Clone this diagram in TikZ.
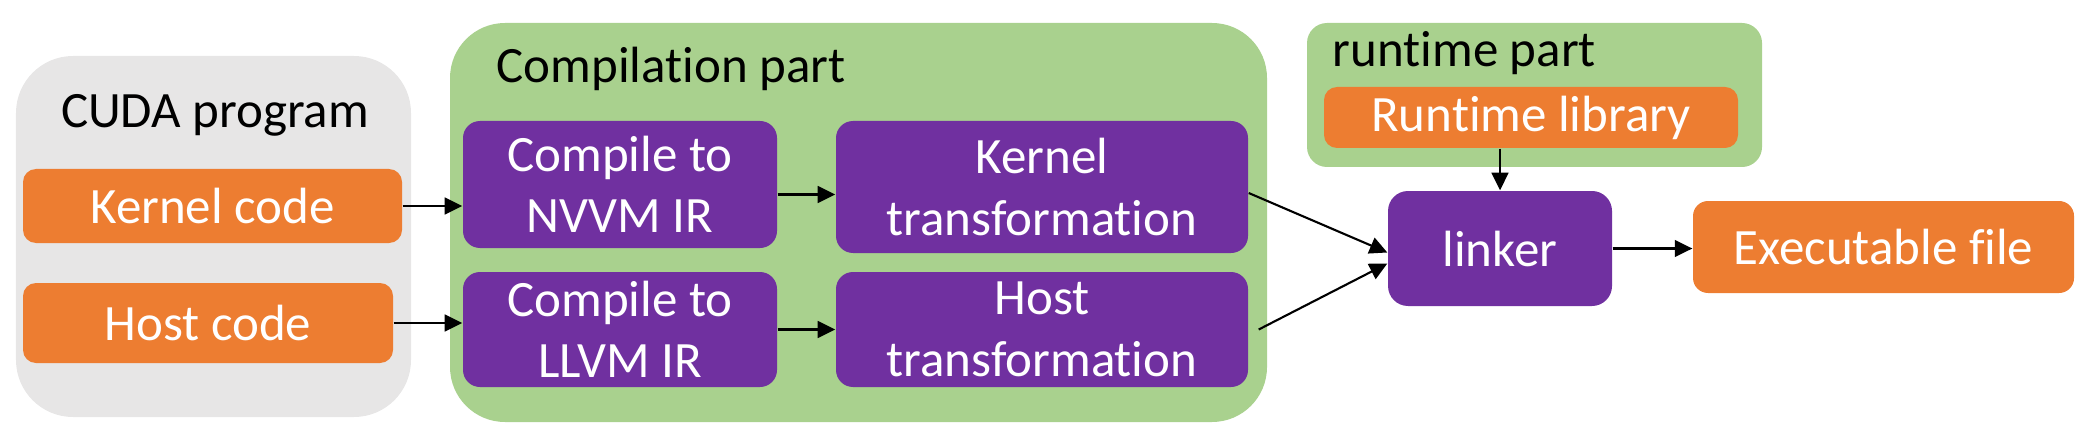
\documentclass[tikz,border=0pt]{standalone}
\usepackage{fontspec}
\setmainfont{Carlito}[Ligatures={NoCommon,NoContextual,NoRequired,NoRare}]
\usetikzlibrary{arrows.meta, positioning, calc}
\usepackage{xcolor}
\definecolor{officeOrange}{HTML}{ED7D31}
\definecolor{officePurple}{HTML}{7030A0}
\definecolor{officeGreen}{HTML}{A9D18E}
\definecolor{officeGray}{HTML}{E7E6E6}
\tikzset{
    partBox/.style={
        fill=officeGreen, draw=none, inner sep=0pt, rounded corners=0.55cm
    },
    partTitle/.style={
        text=black, inner sep=0pt, font=\fontsize{14.5pt}{17.5pt}\selectfont
    },
    codeBlock/.style={
        fill=officeOrange, draw=none, text=white, rounded corners=0.13cm, inner sep=0pt, align=center, font=\fontsize{14.5pt}{17.5pt}\selectfont
    },
    stageBlock/.style={
        fill=officePurple, draw=none, text=white, rounded corners=0.17cm, inner sep=0pt, align=center, font=\fontsize{14.5pt}{17.5pt}\selectfont
    },
    flowArrow/.style={
        -{Triangle[length=5pt, width=4.8pt]}, line width=0.6pt, draw=black
    }
}
\begin{document}
\begin{tikzpicture}
    \useasboundingbox (0,0) rectangle (20.88,-4.36);

    % ── GROUPS
    \node[partBox, fill=officeGray, rounded corners=0.57cm, minimum width=3.95cm, minimum height=3.61cm] (cudaPart) at (2.135, -2.365) {};
    \node[partBox, minimum width=8.17cm, minimum height=3.99cm] (compPart) at (8.585, -2.225) {};
    \node[partBox, rounded corners=0.2cm, minimum width=4.55cm, minimum height=1.44cm] (runPart) at (15.345, -0.95) {};

    \node[partTitle, anchor=base] (cudaTitle) at (2.15, -1.27) {CUDA program};
    \node[partTitle, anchor=base west] (compTitle) at (4.96, -0.82) {Compilation part};
    \node[partTitle, anchor=base west] (runTitle) at (13.32, -0.67) {runtime part};

    % ── SOURCE CODE
    \node[codeBlock, minimum width=3.79cm, minimum height=0.74cm] (kernelCode) at (2.125, -2.06) {Kernel code};
    \node[codeBlock, minimum width=3.70cm, minimum height=0.80cm] (hostCode) at (2.08, -3.23) {Host code};

    % ── COMPILATION STAGES
    \node[stageBlock, minimum width=3.14cm, minimum height=1.27cm] (nvvmComp) at (6.20, -1.845) {Compile to\\NVVM IR};
    \node[stageBlock, minimum width=3.14cm, minimum height=1.15cm] (llvmComp) at (6.20, -3.295) {Compile to\\LLVM IR};
    \node[stageBlock, minimum width=4.12cm, minimum height=1.32cm] (kernelTrans) at (10.42, -1.87) {Kernel\\transformation};
    \node[stageBlock, minimum width=4.12cm, minimum height=1.15cm] (hostTrans) at (10.42, -3.295) {Host\\transformation};

    % ── RUNTIME AND LINKING
    \node[codeBlock, minimum width=4.14cm, minimum height=0.61cm] (runtimeLib) at (15.31, -1.175) {Runtime library};
    \node[stageBlock, rounded corners=0.2cm, minimum width=2.24cm, minimum height=1.15cm] (linker) at (15.00, -2.485) {linker};
    \node[codeBlock, rounded corners=0.15cm, minimum width=3.81cm, minimum height=0.92cm] (execFile) at (18.835, -2.47) {Executable file};

    % Arrows
    \draw[flowArrow] (kernelCode.east) -- (kernelCode.east -| nvvmComp.west);
    \draw[flowArrow] (hostCode.east) -- (hostCode.east -| llvmComp.west);
    \draw[flowArrow] ([yshift=-0.1cm]nvvmComp.east) -- ([yshift=-0.1cm]nvvmComp.east -| kernelTrans.west);
    \draw[flowArrow] (llvmComp.east) -- (hostTrans.west);
    \draw[flowArrow] ([yshift=-0.06cm]kernelTrans.east) -- ([yshift=-0.04cm]linker.west);
    \draw[flowArrow] ([xshift=0.1cm]hostTrans.east) -- ([yshift=-0.15cm]linker.west);
    \draw[flowArrow] (linker.north |- runtimeLib.south) -- (linker.north);
    \draw[flowArrow] (linker.east) -- (linker.east -| execFile.west);
\end{tikzpicture}
\end{document}
